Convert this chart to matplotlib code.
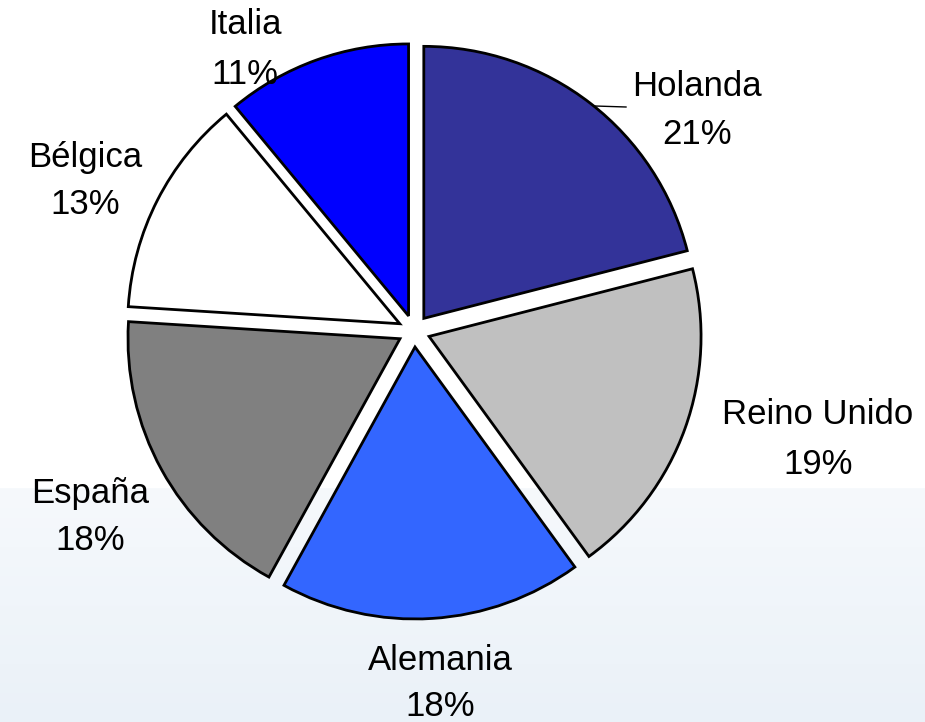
import numpy as np
import matplotlib as mpl
mpl.use('Agg')
import matplotlib.pyplot as plt  # noqa

paises = ['Holanda', 'Reino Unido', 'Alemania', 'España', 'Bélgica', 'Italia']
valores = [21, 19, 18, 18, 13, 11]
colores = ['#333399', '#C0C0C0', '#3366FF', '#808080', '#FFFFFF', '#0000FF']
# label centres in pixels (x, y from top) for name and percentage lines
pos_nombre = [(697, 87), (818, 415), (440, 661), (90, 494), (85, 157), (245, 25)]
pos_pct = [(697, 135), (818, 465), (440, 706), (90, 541), (85, 205), (245, 74)]

W, H = 925, 722
plt.rcParams['font.family'] = ['Liberation Sans', 'DejaVu Sans']

fig = plt.figure(figsize=(W / 100, H / 100), dpi=100)

# faint blue band at the bottom of the slide
bg = fig.add_axes([0, 0, 1, 1])
rows = np.arange(H)
t = np.clip((rows - 488) / (H - 488), 0, 1)
top = np.array([1.0, 1.0, 1.0])
c0 = np.array([246, 249, 252]) / 255
c1 = np.array([234, 241, 248]) / 255
col = np.where((rows >= 488)[:, None], c0 + (c1 - c0) * t[:, None], top)
img = np.repeat(col[:, None, :], 4, axis=1)
bg.imshow(img, aspect='auto', extent=(0, W, H, 0))
bg.axis('off')

ax = fig.add_axes([0, 0, 1, 1])
ax.patch.set_alpha(0)
# explode is in data units (pixels here)
ax.pie(valores, colors=colores, startangle=90, counterclock=False,
       center=(414, H - 331), radius=272, explode=[16] * len(valores),
       wedgeprops=dict(edgecolor='black', linewidth=2))
ax.set_xlim(0, W)
ax.set_ylim(0, H)
ax.set_aspect('auto')
ax.axis('off')

for nombre, v, (xn, yn), (xp, yp) in zip(paises, valores, pos_nombre, pos_pct):
    ax.text(xn, H - yn, nombre, ha='center', va='center', fontsize=25)
    ax.text(xp, H - yp, '{}%'.format(v), ha='center', va='center', fontsize=25)

# leader line for Holanda
ax.plot([595, 626], [H - 106, H - 107], color='black', lw=1)

fig.savefig('out.png', dpi=100)
